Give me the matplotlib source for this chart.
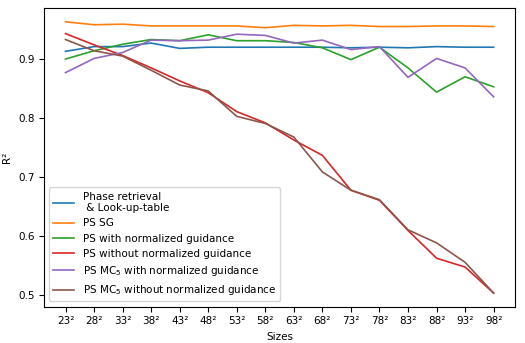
import matplotlib
matplotlib.use("Agg")
import matplotlib.pyplot as plt

sizes = [23, 28, 33, 38, 43, 48, 53, 58, 63, 68, 73, 78, 83, 88, 93, 98]
tick_labels = [f"{s}²" for s in sizes]

phase_lut = [0.913, 0.921, 0.921, 0.927, 0.918, 0.920, 0.920, 0.920, 0.920, 0.920, 0.919, 0.920, 0.919, 0.921, 0.920, 0.920]
ps_sg = [0.963, 0.958, 0.959, 0.956, 0.956, 0.956, 0.956, 0.953, 0.957, 0.956, 0.957, 0.955, 0.955, 0.956, 0.956, 0.955]
ps_norm = [0.900, 0.914, 0.925, 0.933, 0.931, 0.941, 0.931, 0.931, 0.928, 0.919, 0.899, 0.920, 0.885, 0.844, 0.870, 0.853]
ps_no_norm = [0.943, 0.924, 0.906, 0.885, 0.863, 0.843, 0.811, 0.792, 0.763, 0.737, 0.678, 0.661, 0.610, 0.563, 0.548, 0.504]
mc5_norm = [0.877, 0.901, 0.911, 0.932, 0.931, 0.932, 0.942, 0.940, 0.927, 0.932, 0.916, 0.921, 0.869, 0.901, 0.885, 0.836]
mc5_no_norm = [0.933, 0.914, 0.905, 0.881, 0.856, 0.846, 0.803, 0.791, 0.768, 0.709, 0.678, 0.662, 0.611, 0.589, 0.556, 0.504]

series = [
    (phase_lut, "Phase retrieval\n & Look-up-table", "tab:blue"),
    (ps_sg, "PS SG", "tab:orange"),
    (ps_norm, "PS with normalized guidance", "tab:green"),
    (ps_no_norm, "PS without normalized guidance", "tab:red"),
    (mc5_norm, "PS MC$_5$ with normalized guidance", "tab:purple"),
    (mc5_no_norm, "PS MC$_5$ without normalized guidance", "tab:brown"),
]

plt.rcParams['font.size'] = 7.5
fig, ax = plt.subplots(figsize=(5.25, 3.43), dpi=100)
fig.subplots_adjust(left=0.084, right=0.981, top=0.976, bottom=0.106)

x = list(range(len(sizes)))
for vals, lab, col in series:
    ax.plot(x, vals, label=lab, color=col, linewidth=1.2)

ax.set_xticks(x)
ax.set_xticklabels(tick_labels)
ax.set_xlabel("Sizes")
ax.set_ylabel("R²")
ax.legend(loc="lower left", fontsize=7.5)

fig.savefig("out.png", dpi=100)
